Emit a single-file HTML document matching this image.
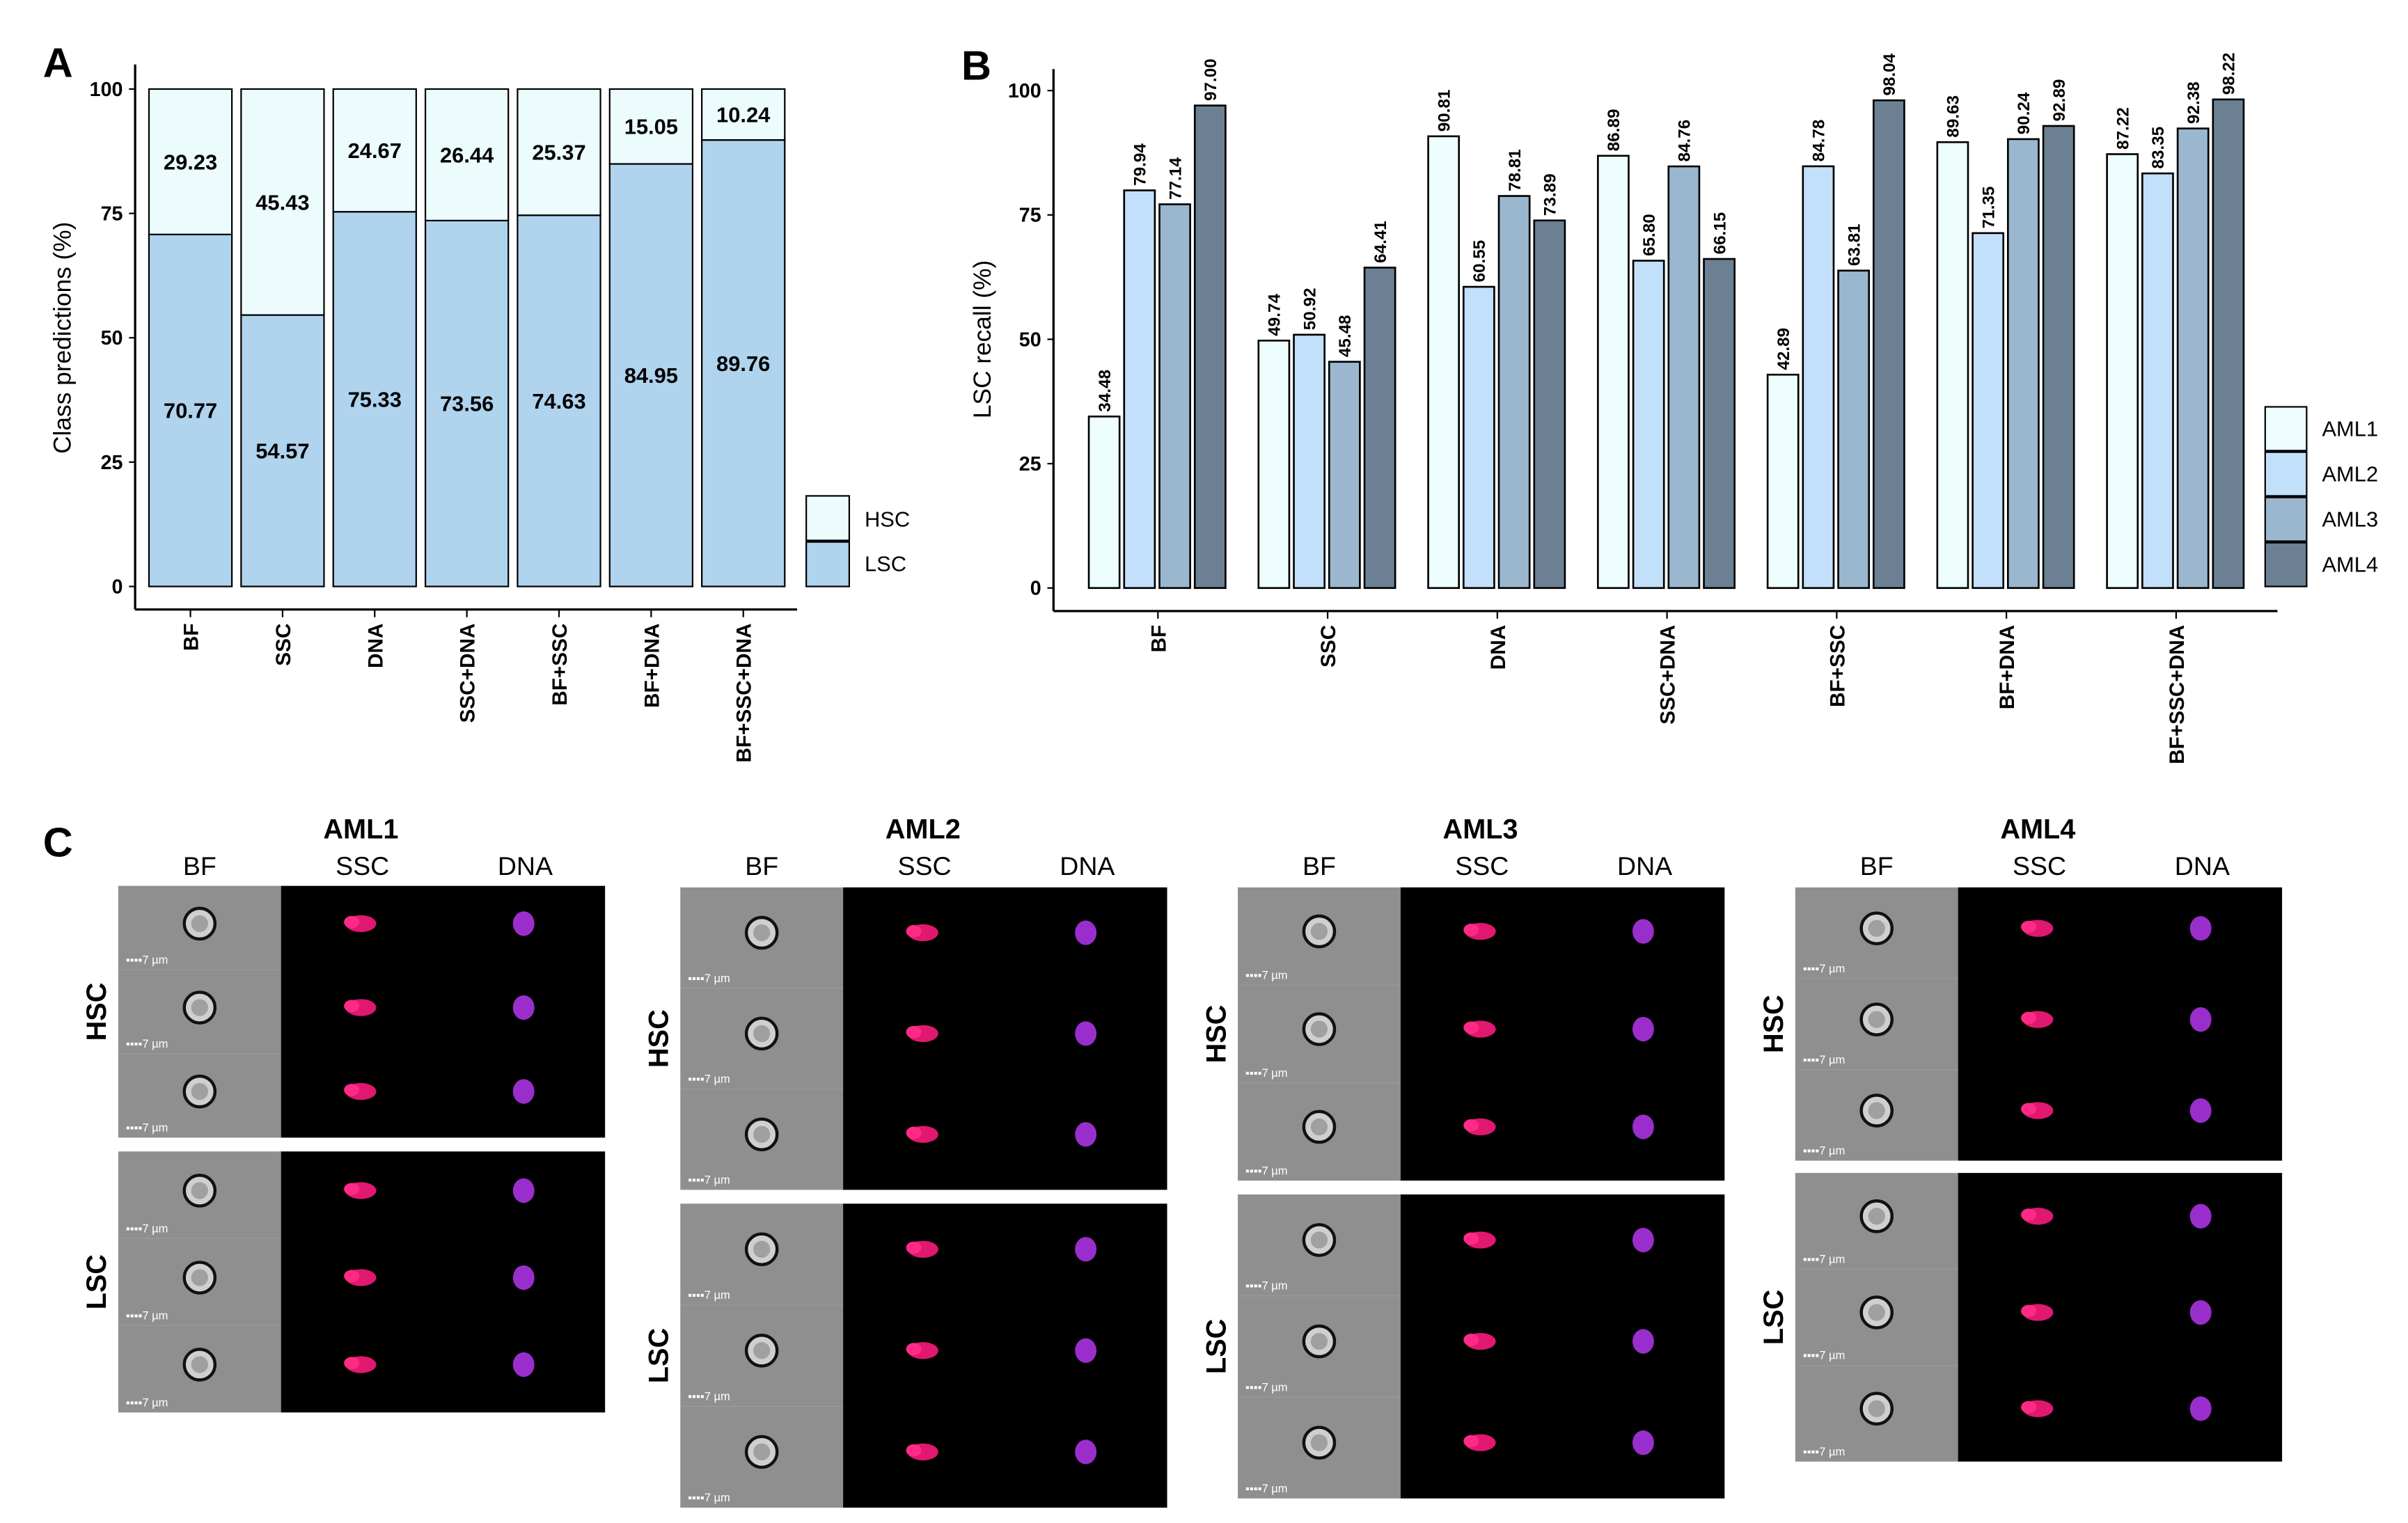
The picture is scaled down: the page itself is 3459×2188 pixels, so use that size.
<!DOCTYPE html>
<html><head><meta charset="utf-8"><style>
html,body{margin:0;padding:0;background:#fff}
svg{display:block;font-family:"Liberation Sans",Arial,sans-serif}
</style></head><body>
<svg id="fig" width="3459" height="2188" viewBox="0 0 1568 992" preserveAspectRatio="none">
<rect x="0" y="0" width="1568" height="992" fill="#fff"/>
<g id="pa"></g>
<g id="pb"></g>
<g id="pc"></g>
</svg>
<script>
const catsA = ["BF","SSC","DNA","SSC+DNA","BF+SSC","BF+DNA","BF+SSC+DNA"];
const lscA = [70.77,54.57,75.33,73.56,74.63,84.95,89.76];
const hscA = [29.23,45.43,24.67,26.44,25.37,15.05,10.24];
const ticksA = [0,25,50,75,100];
const catsB = ["BF","SSC","DNA","SSC+DNA","BF+SSC","BF+DNA","BF+SSC+DNA"];
const aml1 = [34.48,49.74,90.81,86.89,42.89,89.63,87.22];
const aml2 = [79.94,50.92,60.55,65.80,84.78,71.35,83.35];
const aml3 = [77.14,45.48,78.81,84.76,63.81,90.24,92.38];
const aml4 = [97.00,64.41,73.89,66.15,98.04,92.89,98.22];
const seriesB = ["AML1","AML2","AML3","AML4"];

const NS="http://www.w3.org/2000/svg";
function mk(parent,tag,attrs,text){const e=document.createElementNS(NS,tag);for(const k in attrs)e.setAttribute(k,attrs[k]);if(text!==undefined)e.textContent=text;parent.appendChild(e);return e;}

// ---------- Panel A ----------
(function(){
const g=document.getElementById('pa');
const yA=v=>382-v*3.24;
const xA=i=>124+i*60;
let t=mk(g,'text',{x:28,y:50,'font-size':27,'font-weight':'bold'},'A');

mk(g,'line',{x1:88,y1:42,x2:88,y2:397,stroke:'#000','stroke-width':1.5});
mk(g,'line',{x1:88,y1:397,x2:519,y2:397,stroke:'#000','stroke-width':1.5});
ticksA.forEach(v=>{
 mk(g,'line',{x1:84,y1:yA(v),x2:88,y2:yA(v),stroke:'#000'});
 const tt=mk(g,'text',{x:80,y:yA(v)+4.5,'font-size':13,'font-weight':'bold','text-anchor':'end'},v);
 
});
t=mk(g,'text',{transform:'translate(46,220) rotate(-90)','font-size':16,'text-anchor':'middle'},'Class predictions (%)');

catsA.forEach((c,i)=>{
 const x=xA(i)-27;
 const b1=mk(g,'rect',{x:x,y:yA(lscA[i]),width:54,height:yA(0)-yA(lscA[i]),fill:'#b0d3ee',stroke:'#000','stroke-width':1});
 
 const b2=mk(g,'rect',{x:x,y:yA(lscA[i]+hscA[i]),width:54,height:yA(lscA[i])-yA(lscA[i]+hscA[i]),fill:'#ecfcfd',stroke:'#000','stroke-width':1});
 
 const l1=mk(g,'text',{x:xA(i),y:yA(lscA[i]/2)+5,'font-size':14,'font-weight':'bold','text-anchor':'middle'},lscA[i].toFixed(2));
 
 const l2=mk(g,'text',{x:xA(i),y:yA(lscA[i]+hscA[i]/2)+5,'font-size':14,'font-weight':'bold','text-anchor':'middle'},hscA[i].toFixed(2));
 
 mk(g,'line',{x1:xA(i),y1:397,x2:xA(i),y2:402,stroke:'#000'});
 const xl=mk(g,'text',{transform:`translate(${xA(i)+5},406) rotate(-90)`,'font-size':13.5,'font-weight':'bold','text-anchor':'end'},c);
 
});
let r=mk(g,'rect',{x:525,y:323,width:28,height:29,fill:'#ecfcfd',stroke:'#000'});

r=mk(g,'rect',{x:525,y:353,width:28,height:29,fill:'#b0d3ee',stroke:'#000'});

t=mk(g,'text',{x:563,y:343,'font-size':14},'HSC');
t=mk(g,'text',{x:563,y:372,'font-size':14},'LSC');
})();

// ---------- Panel B ----------
(function(){
const g=document.getElementById('pb');
const yB=v=>383-v*3.24;
const xB=i=>754+i*110.5;
const cols=['#eefefe','#c3e0fb','#9ab7cf','#6b8193'];
const data=[aml1,aml2,aml3,aml4];
let t=mk(g,'text',{x:626,y:52,'font-size':27,'font-weight':'bold'},'B');

mk(g,'line',{x1:686,y1:45,x2:686,y2:398,stroke:'#000','stroke-width':1.5});
mk(g,'line',{x1:686,y1:398,x2:1483,y2:398,stroke:'#000','stroke-width':1.5});
ticksA.forEach(v=>{
 mk(g,'line',{x1:682,y1:yB(v),x2:686,y2:yB(v),stroke:'#000'});
 const tt=mk(g,'text',{x:678,y:yB(v)+4.5,'font-size':13,'font-weight':'bold','text-anchor':'end'},v);
 
});
t=mk(g,'text',{transform:'translate(645,221) rotate(-90)','font-size':16,'text-anchor':'middle'},'LSC recall (%)');

catsB.forEach((c,i)=>{
 data.forEach((arr,s)=>{
  const x=xB(i)-45+s*23;
  const b=mk(g,'rect',{x:x,y:yB(arr[i]),width:20,height:yB(0)-yB(arr[i]),fill:cols[s],stroke:'#000','stroke-width':1.2});
  
  const l=mk(g,'text',{transform:`translate(${x+14},${yB(arr[i])-3}) rotate(-90)`,'font-size':11,'font-weight':'bold'},arr[i].toFixed(2));
  
 });
 mk(g,'line',{x1:xB(i),y1:398,x2:xB(i),y2:403,stroke:'#000'});
 const xl=mk(g,'text',{transform:`translate(${xB(i)+5},407) rotate(-90)`,'font-size':13.5,'font-weight':'bold','text-anchor':'end'},c);
 
});
seriesB.forEach((s,k)=>{
 const y=265+k*29.5;
 const r=mk(g,'rect',{x:1475,y:y,width:27,height:28.5,fill:cols[k],stroke:'#000'});
 
 const tt=mk(g,'text',{x:1512,y:y+19,'font-size':14},s);
 
});
})();

// ---------- Panel C ----------
(function(){
const g=document.getElementById('pc');
let t=mk(g,'text',{x:28,y:558,'font-size':27,'font-weight':'bold'},'C');

const blocks=[
 {name:'AML1',x:77,h:[577,741],l:[750,920]},
 {name:'AML2',x:443,h:[578,775],l:[784,982]},
 {name:'AML3',x:806,h:[578,769],l:[778,976]},
 {name:'AML4',x:1169,h:[578,756],l:[764,952]}];
blocks.forEach(b=>{
 const bg=mk(g,'g',{});
 
 const cx=b.x+158;
 let tt=mk(bg,'text',{x:cx,y:546,'font-size':18,'font-weight':'bold','text-anchor':'middle'},b.name);
 
 ['BF','SSC','DNA'].forEach((c,k)=>{
  tt=mk(bg,'text',{x:b.x+53+k*106,y:570,'font-size':17,'text-anchor':'middle'},c);
  
 });
 [['HSC',b.h],['LSC',b.l]].forEach(([lab,[y0,y1]])=>{
  tt=mk(bg,'text',{transform:`translate(${b.x-8},${(y0+y1)/2}) rotate(-90)`,'font-size':18,'font-weight':'bold','text-anchor':'middle'},lab);
  
  mk(bg,'rect',{x:b.x,y:y0,width:106,height:y1-y0,fill:'#8f8f8f'});
  mk(bg,'rect',{x:b.x+106,y:y0,width:211,height:y1-y0,fill:'#000'});
  const rh=(y1-y0)/3;
  for(let r=0;r<3;r++){
   const ry=y0+r*rh, my=ry+rh*0.45;
   if(r>0) mk(bg,'line',{x1:b.x,y1:ry,x2:b.x+106,y2:ry,stroke:'#9a9a9a','stroke-width':0.6});
   mk(bg,'circle',{cx:b.x+53,cy:my,r:10,fill:'#cfcfcf',stroke:'#111','stroke-width':2});
   mk(bg,'circle',{cx:b.x+53,cy:my,r:5.5,fill:'#a0a0a0'});
   mk(bg,'text',{x:b.x+5,y:ry+rh-4,'font-size':7.5,fill:'#fff'},'▪▪▪▪7 µm');
   mk(bg,'ellipse',{cx:b.x+158,cy:my,rx:10,ry:5.5,fill:'#e0186f'});
   mk(bg,'ellipse',{cx:b.x+152,cy:my-1,rx:5,ry:4,fill:'#ff2a86'});
   mk(bg,'ellipse',{cx:b.x+264,cy:my,rx:7,ry:8,fill:'#9a2ecc'});
  }
 });
});
})();
</script>
</body></html>
